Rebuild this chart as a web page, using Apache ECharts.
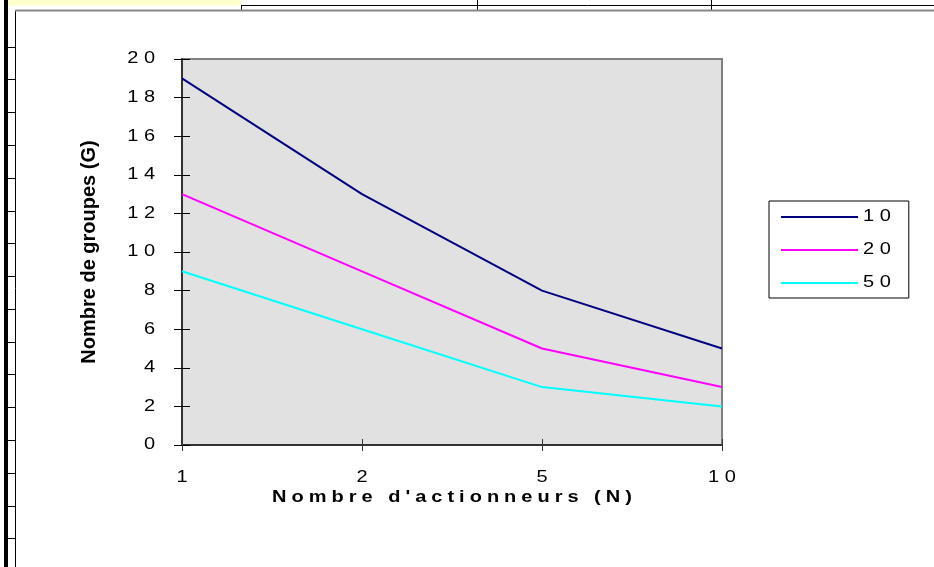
<!DOCTYPE html>
<html>
<head>
<meta charset="utf-8">
<script src="https://cdn.jsdelivr.net/npm/echarts@6/dist/echarts.min.js"></script>
<style>
html,body{margin:0;padding:0;background:#fff;}
#chart{width:934px;height:567px;}
</style>
</head>
<body>
<div id="chart"></div>
<script>
// ---- data ----
var categories = ['1', '2', '5', '10'];
var seriesNames = ['10', '20', '50'];
var values10 = [19, 13, 8, 5];
var values20 = [13, 9, 5, 3];
var values50 = [9, 6, 3, 2];
var xTitle = "Nombre d'actionneurs (N)";
var yTitle = 'Nombre de groupes (G)';

// wide, letter-spaced glyphs for "Arial" texts (spreadsheet-style rendering)
(function(){
  var proto = CanvasRenderingContext2D.prototype;
  var orig = proto.fillText;
  proto.fillText = function(t, x, y, w){
    var f = this.font || '';
    if (f.indexOf('Arial') < 0) {
      try { this.letterSpacing = '0px'; } catch(e){}
      return orig.apply(this, arguments);
    }
    var bold = /bold|700/.test(f);
    var ls = bold ? 4 : 4.5;
    var sx = 1.25;
    this.save();
    try { this.letterSpacing = ls + 'px'; } catch(e){}
    var hasLS = ('letterSpacing' in this);
    this.translate(x, y);
    this.scale(sx, 1);
    var dx = 0, a = this.textAlign;
    if (hasLS) {
      if (a === 'center') dx = ls / 2;
      else if (a === 'right' || a === 'end') dx = ls;
    }
    orig.call(this, t, dx, 0);
    this.restore();
  };
})();

var chart = echarts.init(document.getElementById('chart'), null, {renderer:'canvas'});

var colors = ['#000080', '#ff00ff', '#00ffff'];
var allValues = [values10, values20, values50];

// spreadsheet decoration
var graphics = [
  {type:'rect', shape:{x:8, y:0, width:233, height:5.5}, style:{fill:'#ffffcc'}, z:100},
  {type:'rect', shape:{x:4, y:0, width:4, height:567}, style:{fill:'#000'}, z:100},
  {type:'line', shape:{x1:241, y1:5.5, x2:934, y2:5.5}, style:{stroke:'#000', lineWidth:1}, z:100},
  {type:'line', shape:{x1:241.5, y1:5, x2:241.5, y2:10}, style:{stroke:'#000', lineWidth:1}, z:100},
  {type:'line', shape:{x1:477.5, y1:0, x2:477.5, y2:10}, style:{stroke:'#000', lineWidth:1}, z:100},
  {type:'line', shape:{x1:711.5, y1:0, x2:711.5, y2:10}, style:{stroke:'#000', lineWidth:1}, z:100},
  {type:'line', shape:{x1:15.5, y1:10, x2:15.5, y2:567}, style:{stroke:'#000', lineWidth:1}, z:100},
  {type:'line', shape:{x1:15, y1:10.5, x2:934, y2:10.5}, style:{stroke:'#888', lineWidth:2}, z:100}
];
var rowY = [46.5, 79.3, 112, 144.9, 177.7, 210.5, 243.3, 276, 308.8, 341.6, 374.4, 407.2, 440, 472.7, 505.5, 538.3];
rowY.forEach(function(y){
  graphics.push({type:'line', shape:{x1:8, y1:Math.round(y)+0.5, x2:15, y2:Math.round(y)+0.5}, style:{stroke:'#000', lineWidth:1}, z:100});
});

var option = {
  animation: false,
  backgroundColor: '#ffffff',
  grid: {
    left: 182, top: 59, right: 212, bottom: 122,
    show: true, backgroundColor: '#e1e1e1', borderColor: '#808080', borderWidth: 2
  },
  legend: {
    orient: 'vertical',
    left: 769, top: 201,
    padding: [8, 28, 7, 11],
    itemWidth: 77, itemHeight: 14, itemGap: 17,
    borderColor: '#000', borderWidth: 1,
    backgroundColor: '#fff',
    itemStyle: {opacity: 0},
    textStyle: {fontFamily: 'Arial', fontSize: 16, color: '#000'},
    data: seriesNames
  },
  xAxis: [{
    type: 'category',
    data: categories,
    boundaryGap: false,
    name: xTitle,
    nameLocation: 'middle',
    nameGap: 45,
    nameMoveOverlap: false,
    nameTextStyle: {fontFamily: 'Arial', fontWeight: 'bold', fontSize: 16, color: '#000'},
    axisLine: {lineStyle: {color: '#333', width: 2}},
    axisTick: {show: true, length: 6, lineStyle: {color: '#333'}},
    axisLabel: {fontFamily: 'Arial', fontSize: 16, color: '#000', margin: 25},
    splitLine: {show: false}
  }, {
    type: 'category',
    data: categories,
    boundaryGap: false,
    position: 'bottom',
    axisLine: {show: false},
    axisTick: {show: true, inside: true, length: 6, lineStyle: {color: '#333'}},
    axisLabel: {show: false},
    splitLine: {show: false}
  }],
  yAxis: [{
    type: 'value',
    min: 0, max: 20, interval: 2,
    name: yTitle,
    nameLocation: 'middle',
    nameGap: 83,
    nameMoveOverlap: false,
    nameTextStyle: {fontFamily: 'Liberation Sans', fontWeight: 'bold', fontSize: 20, color: '#000'},
    axisLine: {show: true, lineStyle: {color: '#333', width: 2}},
    axisTick: {show: true, length: 8, lineStyle: {color: '#000'}},
    axisLabel: {fontFamily: 'Arial', fontSize: 16, color: '#000', margin: 27},
    splitLine: {show: false}
  }, {
    type: 'value',
    min: 0, max: 20, interval: 2,
    position: 'left',
    axisLine: {show: false},
    axisTick: {show: true, inside: true, length: 8, lineStyle: {color: '#000'}},
    axisLabel: {show: false},
    splitLine: {show: false}
  }],
  series: seriesNames.map(function(n, i){
    return {
      name: n,
      type: 'line',
      data: allValues[i],
      symbol: 'none',
      lineStyle: {color: colors[i], width: 2},
      itemStyle: {color: colors[i]},
      z: 3
    };
  }),
  graphic: graphics
};
chart.setOption(option);
</script>
</body>
</html>
